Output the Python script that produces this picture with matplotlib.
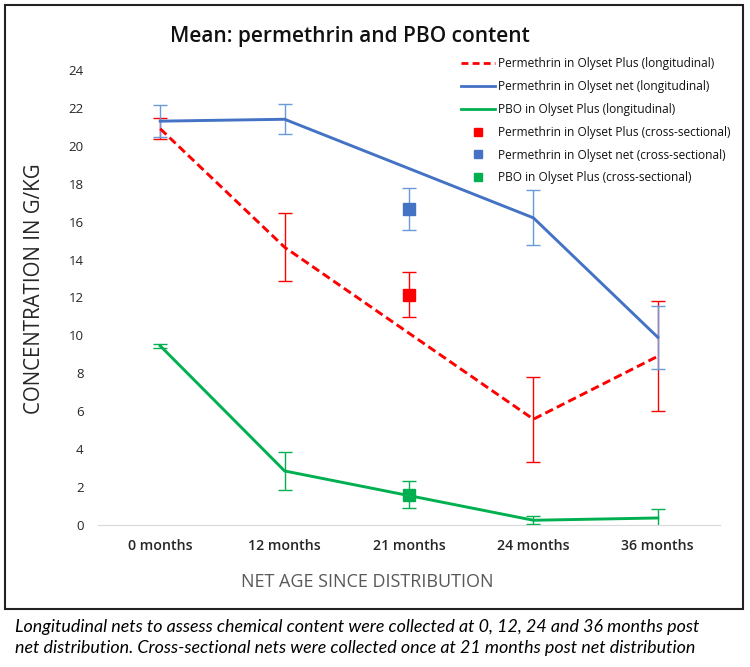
import numpy as np
import matplotlib
matplotlib.use("Agg")
import matplotlib.pyplot as plt
from matplotlib.lines import Line2D
from matplotlib.patches import Rectangle

# categorias del eje x
meses = ["0 months", "12 months", "21 months", "24 months", "36 months"]

# series longitudinales (0, 12, 24, 36 meses)
x_long = [0, 1, 3, 4]
perm_plus = [20.9, 14.65, 5.58, 8.9]
perm_plus_err = [0.55, 1.8, 2.25, 2.9]
perm_net = [21.3, 21.4, 16.2, 9.9]
perm_net_err = [0.85, 0.8, 1.45, 1.65]
pbo_plus = [9.45, 2.85, 0.25, 0.37]
pbo_plus_err = [0.12, 1.0, 0.2, 0.47]

# series transversales (21 meses)
x_cross = 2
cross_vals = [12.15, 16.65, 1.6]
cross_err = [1.2, 1.1, 0.7]

rojo = "#FF0000"
azul = "#4472C4"
verde = "#00B050"
azul_err = "#6A9BD8"

plt.rcParams["font.family"] = ["Open Sans", "DejaVu Sans"]
fig = plt.figure(figsize=(7.5, 6.67), dpi=100)

# marco exterior
fig.patches.append(Rectangle((0.0067, 0.087), 0.984, 0.9055, transform=fig.transFigure,
                             fill=False, edgecolor="#222222", linewidth=1.5))

ax = fig.add_axes([0.1307, 0.2129, 0.8293, 0.6822])

eb = dict(fmt="none", elinewidth=1, capsize=5, capthick=1)
ax.errorbar(x_long, perm_plus, yerr=perm_plus_err, ecolor=rojo, **eb)
ax.errorbar(x_long, perm_net, yerr=perm_net_err, ecolor=azul_err, **eb)
ax.errorbar(x_long, pbo_plus, yerr=pbo_plus_err, ecolor=verde, **eb)

ax.plot(x_long, perm_plus, color=rojo, linewidth=2.1, linestyle=(0, (2.9, 1.5)))
ax.plot(x_long, perm_net, color=azul, linewidth=2.1)
ax.plot(x_long, pbo_plus, color=verde, linewidth=2.1)

for v, e, c, ce in zip(cross_vals, cross_err, [rojo, azul, verde], [rojo, azul_err, verde]):
    ax.errorbar([x_cross], [v], yerr=[e], ecolor=ce, **eb)
    ax.plot([x_cross], [v], marker="s", markersize=8.6, color=c, linestyle="none")

ax.set_xlim(-0.5, 4.5)
ax.set_ylim(0, 24)
ax.set_xticks(range(len(meses)))
ax.set_xticklabels(meses, fontsize=10.2, color="#262626", weight="semibold")
ax.set_yticks(np.arange(0, 25, 2))
ax.tick_params(axis="y", labelsize=9.5, length=0, pad=10.5, labelcolor="#262626")
ax.tick_params(axis="x", length=0, pad=10)
for lado in ["left", "right", "top"]:
    ax.spines[lado].set_visible(False)
ax.spines["bottom"].set_color("#D9D9D9")

ax.set_ylabel("CONCENTRATION IN G/KG", fontsize=14.8, color="#262626")
ax.yaxis.set_label_coords(-0.086, 0.519)
ax.set_xlabel("NET AGE SINCE DISTRIBUTION", fontsize=13, color="#595959")
ax.xaxis.set_label_coords(0.4325, -0.1055)

fig.text(0.467, 0.945, "Mean: permethrin and PBO content", fontsize=15,
         ha="center", va="center", color="#111111", weight="semibold")

handles = [
    Line2D([], [], color=rojo, linewidth=2, linestyle=(0, (2.5, 1.5))),
    Line2D([], [], color=azul, linewidth=2),
    Line2D([], [], color=verde, linewidth=2),
    Line2D([], [], color=rojo, marker="s", markersize=6, linestyle="none"),
    Line2D([], [], color=azul, marker="s", markersize=6, linestyle="none"),
    Line2D([], [], color=verde, marker="s", markersize=6, linestyle="none"),
]
etiquetas = [
    "Permethrin in Olyset Plus (longitudinal)",
    "Permethrin in Olyset net (longitudinal)",
    "PBO in Olyset Plus (longitudinal)",
    "Permethrin in Olyset Plus (cross-sectional)",
    "Permethrin in Olyset net (cross-sectional)",
    "PBO in Olyset Plus (cross-sectional)",
]
fig.legend(handles, etiquetas, loc="upper left", bbox_to_anchor=(0.6, 0.930),
           frameon=False, fontsize=8.6, handlelength=2.9, handletextpad=0.25,
           labelspacing=0.82, labelcolor="#111111")

texto = ("Longitudinal nets to assess chemical content were collected at 0, 12, 24 and 36 months post\n"
         "net distribution. Cross-sectional nets were collected once at 21 months post net distribution")
fig.text(0.02, 0.0442, texto, fontsize=12.9, style="italic", ha="left", va="center",
         family=["Lato", "DejaVu Sans"], linespacing=1.43)

plt.savefig("out.png", dpi=100)
